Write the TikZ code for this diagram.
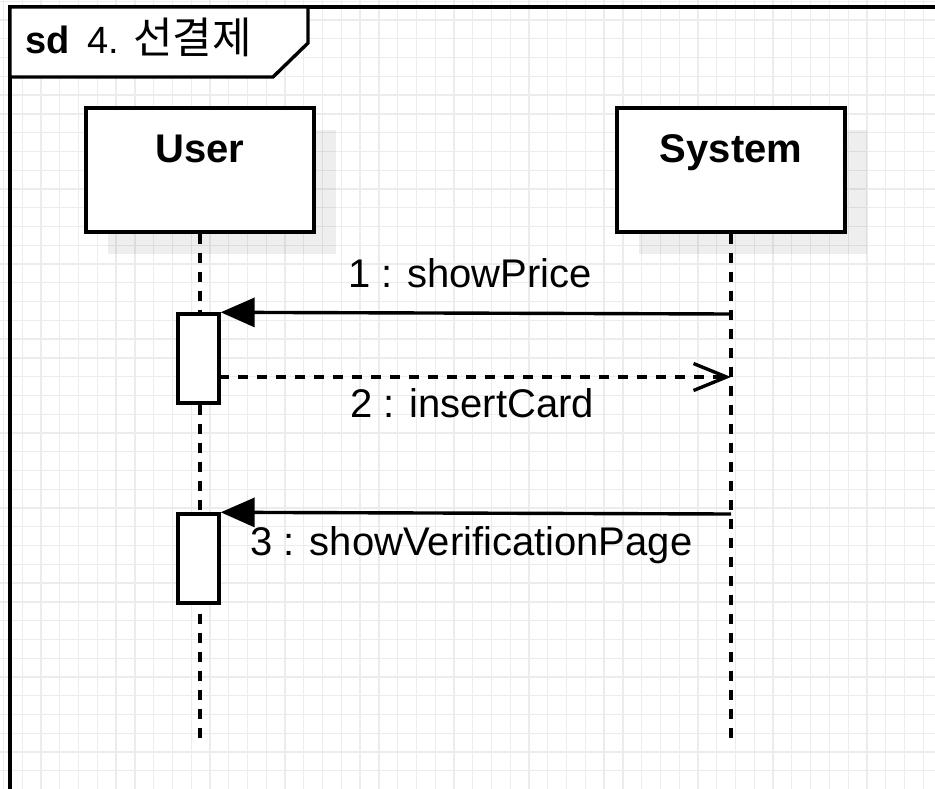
\documentclass[tikz,border=0pt]{standalone}
\usepackage{fontspec}
\setmainfont{Liberation Sans}
\newfontfamily\krfont{Noto Sans CJK KR}
\usetikzlibrary{arrows.meta,shadows}
\definecolor{gridc}{RGB}{236,236,236}
\begin{document}
\begin{tikzpicture}[x=1pt,y=-1pt,
  lw/.style={line width=3.4pt},
  actor/.style={draw, lw, fill=white, minimum width=228pt, minimum height=124pt, inner sep=0pt,
     drop shadow={shadow xshift=22pt, shadow yshift=-22pt, fill=black, opacity=0.065}},
  actlbl/.style={anchor=base, font=\fontsize{40}{48}\selectfont\bfseries, inner sep=0pt},
  activation/.style={draw, lw, fill=white, minimum width=41pt, minimum height=89pt, inner sep=0pt},
  lifeline/.style={line width=3.4pt, dash pattern=on 10pt off 9pt},
  syncmsg/.style={lw, -{Triangle[length=34pt,width=29pt]}},
  replymsg/.style={lw, dash pattern=on 10pt off 9pt, -{Straight Barb[length=33pt,width=27pt,line width=3.4pt]}},
  msglbl/.style={anchor=base, font=\fontsize{40}{48}\selectfont, inner sep=0pt}]
\useasboundingbox (0,0) rectangle (935,788);
\clip (0,0) rectangle (935,788);
\fill[white] (0,0) rectangle (935,788);
% grid
\foreach \i in {0,...,49} \draw[gridc, line width=1.3pt] ({3.5+18.77*\i},0) -- ++(0,790);
\foreach \i in {0,...,42} \draw[gridc, line width=1.3pt] (0,{1.25+18.77*\i}) -- ++(940,0);
% frame
\draw[lw] (10,800) -- (10,7) -- (950,7);
\draw[lw, fill=white] (10,7) -- (308,7) -- (308,43) -- (273,77) -- (10,77) -- cycle;
\node[anchor=base west, inner sep=0pt, font=\fontsize{38}{46}\selectfont] (title) at (25,53)
  {{\bfseries sd}\hspace{18pt}4.\hspace{14pt}{\krfont\fontsize{43}{50}\selectfont 선결제}};
% actors
\node[actor] (user) at (200,170) {};
\node[actlbl] (userlbl) at (200,162) {User};
\node[actor] (sys) at (731,170) {};
\node[actlbl] (syslbl) at (731,162) {System};
% lifeline ends
\coordinate (uend) at (200,740);
\coordinate (send) at (731,740);
\draw[lifeline] (user.south) -- (uend);
\draw[lifeline] (sys.south) -- (send);
% activations
\node[activation] (act1) at (198.5,358.5) {};
\node[activation] (act2) at (198.5,558.5) {};
% message points on system lifeline
\coordinate (s1) at (731,314);
\coordinate (s2) at (731,377);
\coordinate (u2) at (219,377);
\coordinate (s3) at (731,514);
\draw[syncmsg] (s1) -- (act1.north east);
\draw[replymsg] (u2) -- (s2);
\draw[syncmsg] (s3) -- (act2.north east);
% labels
\node[msglbl] (m1) at (470,287) {1 : showPrice};
\node[msglbl] (m2) at (472,417) {2 : insertCard};
\node[msglbl] (m3) at (471.5,555) {3 : showVerificationPage};
\end{tikzpicture}
\end{document}
